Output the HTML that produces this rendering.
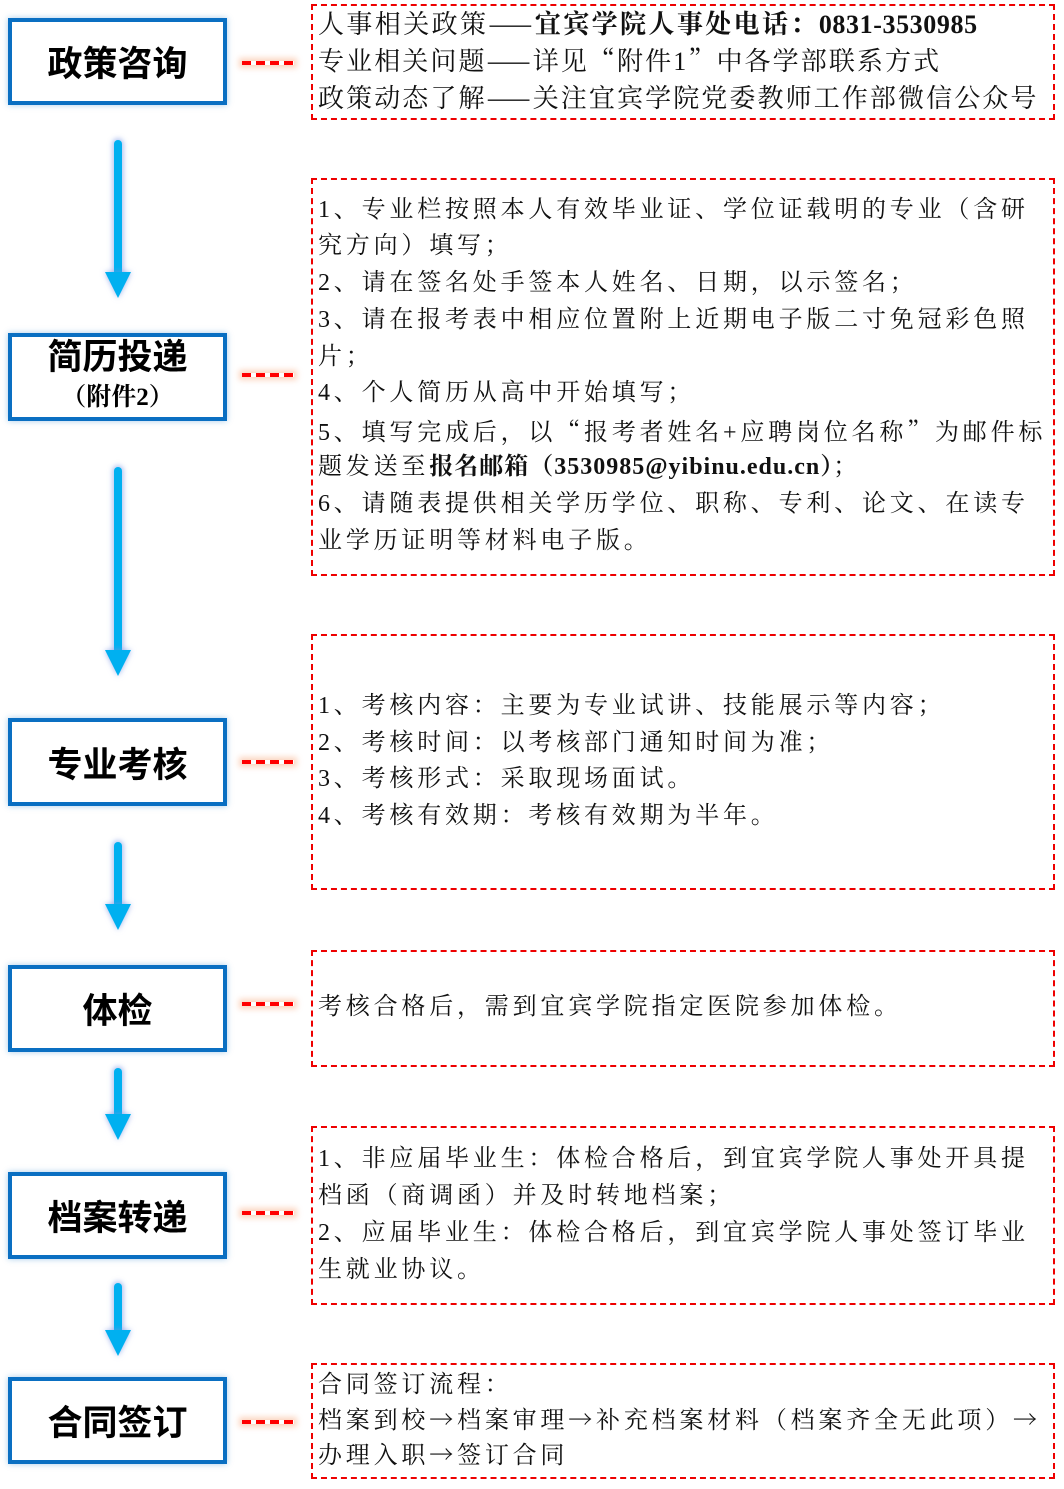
<!DOCTYPE html>
<html><head><meta charset="utf-8"><style>
body{margin:0;width:1064px;height:1489px;background:#fff;position:relative;overflow:hidden;font-family:"Liberation Serif","Noto Serif CJK SC",serif;color:#111}
.b{position:absolute;left:8px;width:211px;border:4px solid #0a6fc2;box-shadow:0 0 6px rgba(10,111,194,.35);background:#fff;display:flex;align-items:center;justify-content:center;flex-direction:column;font-family:"Liberation Sans","Noto Sans CJK SC",sans-serif;font-weight:bold;font-size:35px;color:#000}
.d{position:absolute;left:242px;width:52px;height:4px;background:repeating-linear-gradient(90deg,#f00 0 9px,transparent 9px 14px);box-shadow:0 0 6px 3px rgba(245,150,100,.4)}
.r{position:absolute;left:311px;width:744px;border:2.5px dashed #e00;box-sizing:border-box}
.l{position:absolute;left:318px;white-space:nowrap;font-size:24px;line-height:30px;letter-spacing:3.8px}
.a1{letter-spacing:1.8px;font-size:26px}
.c{font-family:"Noto Serif CJK SC",serif}
.ar{position:absolute;left:105px;width:26px}
.ar .s{position:absolute;left:9px;top:0;width:8px;bottom:20px;background:#00b0f0;border-radius:4px;box-shadow:0 0 5px 2px rgba(120,150,230,.5)}
.ar .h{position:absolute;left:0;bottom:0;width:0;height:0;border-left:13px solid transparent;border-right:13px solid transparent;border-top:26px solid #00b0f0;filter:drop-shadow(0 0 3px rgba(120,150,230,.7))}
b{font-weight:bold}
</style></head><body>
<div class="b" style="top:18px;height:79px">政策咨询</div>
<div class="b" style="top:333px;height:80px;line-height:1"><div style="margin-top:-4px">简历投递</div><div style="font-size:25px;margin-top:10px;font-family:'Liberation Serif','Noto Serif CJK SC',serif">（附件2）</div></div>
<div class="b" style="top:718px;height:80px">专业考核</div>
<div class="b" style="top:965px;height:79px">体检</div>
<div class="b" style="top:1172px;height:79px">档案转递</div>
<div class="b" style="top:1377px;height:79px">合同签订</div>

<div class="d" style="top:61px"></div>
<div class="d" style="top:373px"></div>
<div class="d" style="top:760px"></div>
<div class="d" style="top:1002px"></div>
<div class="d" style="top:1211px"></div>
<div class="d" style="top:1420px"></div>

<div class="ar" style="top:140px;height:158px"><div class="s"></div><div class="h"></div></div>
<div class="ar" style="top:467px;height:209px"><div class="s"></div><div class="h"></div></div>
<div class="ar" style="top:842px;height:88px"><div class="s"></div><div class="h"></div></div>
<div class="ar" style="top:1068px;height:72px"><div class="s"></div><div class="h"></div></div>
<div class="ar" style="top:1283px;height:73px"><div class="s"></div><div class="h"></div></div>

<div class="r" style="top:4px;height:116px"></div>
<div class="l a1" style="top:8px;letter-spacing:2.4px">人事相关政策<span class="c">——</span><b>宜宾学院人事处电话：<span style="letter-spacing:0.6px">0831-3530985</span></b></div>
<div class="l a1" style="top:45px;letter-spacing:2.1px">专业相关问题<span class="c">——</span>详见<span class="c">“</span>附件1<span class="c">”</span>中各学部联系方式</div>
<div class="l a1" style="top:82px;letter-spacing:2.1px">政策动态了解<span class="c">——</span>关注宜宾学院党委教师工作部微信公众号</div>

<div class="r" style="top:178px;height:398px"></div>
<div class="l" style="top:195px">1、专业栏按照本人有效毕业证、学位证载明的专业（含研</div>
<div class="l" style="top:231px">究方向）填写；</div>
<div class="l" style="top:268px">2、请在签名处手签本人姓名、日期，以示签名；</div>
<div class="l" style="top:305px">3、请在报考表中相应位置附上近期电子版二寸免冠彩色照</div>
<div class="l" style="top:342px">片；</div>
<div class="l" style="top:378px">4、个人简历从高中开始填写；</div>
<div class="l" style="top:415px">5、填写完成后，以<span class="c">“</span>报考者姓名+应聘岗位名称<span class="c">”</span>为邮件标</div>
<div class="l" style="top:452px">题发送至<b style="letter-spacing:1px">报名邮箱（3530985@yibinu.edu.cn）</b>；</div>
<div class="l" style="top:489px">6、请随表提供相关学历学位、职称、专利、论文、在读专</div>
<div class="l" style="top:526px">业学历证明等材料电子版。</div>

<div class="r" style="top:634px;height:256px"></div>
<div class="l" style="top:691px">1、考核内容：主要为专业试讲、技能展示等内容；</div>
<div class="l" style="top:728px">2、考核时间：以考核部门通知时间为准；</div>
<div class="l" style="top:764px">3、考核形式：采取现场面试。</div>
<div class="l" style="top:801px">4、考核有效期：考核有效期为半年。</div>

<div class="r" style="top:950px;height:117px"></div>
<div class="l" style="top:992px">考核合格后，需到宜宾学院指定医院参加体检。</div>

<div class="r" style="top:1126px;height:179px"></div>
<div class="l" style="top:1144px">1、非应届毕业生：体检合格后，到宜宾学院人事处开具提</div>
<div class="l" style="top:1181px">档函（商调函）并及时转地档案；</div>
<div class="l" style="top:1218px">2、应届毕业生：体检合格后，到宜宾学院人事处签订毕业</div>
<div class="l" style="top:1255px">生就业协议。</div>

<div class="r" style="top:1363px;height:116px"></div>
<div class="l" style="top:1370px;letter-spacing:3.8px">合同签订流程：</div>
<div class="l" style="top:1403px;letter-spacing:3.8px">档案到校<span class="c">→</span>档案审理<span class="c">→</span>补充档案材料（档案齐全无此项）<span class="c">→</span></div>
<div class="l" style="top:1438px;letter-spacing:3.8px">办理入职<span class="c">→</span>签订合同</div>
</body></html>
